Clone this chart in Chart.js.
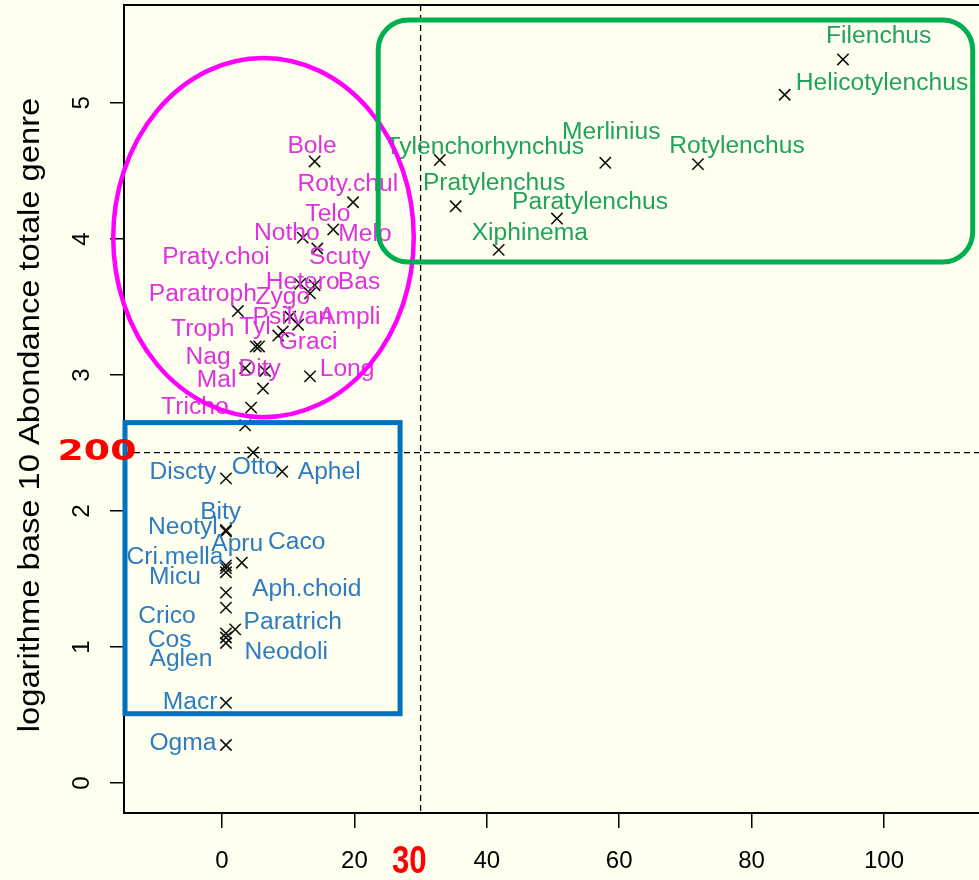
<!DOCTYPE html>
<html>
<head>
<meta charset="utf-8">
<script src="https://cdn.jsdelivr.net/npm/chart.js@4.4.1/dist/chart.umd.min.js"></script>
<style>
  html, body { margin: 0; padding: 0; background: #FFFFF0; overflow: hidden; }
  canvas { display: block; }
</style>
</head>
<body>
<canvas id="scatterC" width="979" height="880"></canvas>
<script>
// x: % , y: log10 abondance totale
const magentaNames = ["Bole","Roty.chul","Telo","Notho","Melo","Praty.choi","Scuty","Hetero","Bas","Paratroph","Zygo","Psilvan","Ampli","Troph","Tyl","Graci","Nag","Dity","Long","Mal","Tricho"];
const magentaX = [14.0,19.8,16.8,12.2,5.1,3.5,14.4,11.8,14.0,2.4,13.3,10.3,11.5,5.6,9.2,8.5,3.5,6.5,13.3,6.2,4.4];
const magentaY = [4.57,4.27,4.07,4.01,3.21,2.63,3.93,3.67,3.66,3.47,3.60,3.43,3.37,3.21,3.32,3.29,3.05,3.03,2.99,2.90,2.76];
const magentaLabelX = [13.6,19.0,16.0,9.8,21.6,-0.9,17.8,12.2,20.7,-2.9,9.2,10.6,19.3,-2.9,5.0,13.0,-2.1,5.7,18.9,-0.8,-4.1];
const magentaLabelY = [4.68,4.40,4.18,4.04,4.03,3.86,3.86,3.68,3.68,3.59,3.57,3.42,3.42,3.33,3.35,3.24,3.13,3.04,3.04,2.96,2.76];

const blueNames = ["Otto","Discty","Aphel","Bity","Neotyl","Apru","Caco","Cri.mella","Micu","Aph.choid","Crico","Paratrich","Cos","Neodoli","Aglen","Macr","Ogma"];
const blueX = [4.7,0.6,9.1,0.6,0.6,0.6,3.0,0.6,0.6,0.6,0.6,2.0,0.6,0.6,0.6,0.6,0.6];
const blueY = [2.43,2.24,2.29,1.86,1.85,1.60,1.62,1.58,1.55,1.40,1.29,1.13,1.10,1.07,1.03,0.59,0.28];
const blueLabelX = [5.0,-5.9,16.2,-0.2,-5.9,2.3,11.3,-7.1,-7.1,12.8,-8.3,10.7,-7.9,9.7,-6.2,-4.8,-5.9];
const blueLabelY = [2.32,2.28,2.28,1.99,1.88,1.75,1.77,1.66,1.51,1.42,1.22,1.18,1.05,0.96,0.91,0.59,0.29];

const greenNames = ["Filenchus","Helicotylenchus","Tylenchorhynchus","Merlinius","Rotylenchus","Pratylenchus","Paratylenchus","Xiphinema"];
const greenX = [93.8,85.0,32.9,57.9,71.9,35.3,50.6,41.8];
const greenY = [5.32,5.06,4.58,4.56,4.55,4.24,4.15,3.92];
const greenLabelX = [99.2,99.7,39.7,58.8,77.8,41.1,55.6,46.5];
const greenLabelY = [5.49,5.14,4.67,4.78,4.68,4.41,4.27,4.04];

const xTicks = [0,20,40,60,80,100];
const yTicks = [0,1,2,3,4,5];
const xSeuil = 30;     // seuil x
const ySeuil = 2.43;   // seuil abondance (200)

function pts(names, xs, ys, lxs, lys){
    return names.map((n,i)=>({x:xs[i], y:ys[i], name:n, lx:lxs[i], ly:lys[i]}));
}

function stretchText(ctx, str, x, y, font, color, sx){
    ctx.save();
    ctx.translate(x, y);
    ctx.scale(sx, 1);
    ctx.font = font;
    ctx.fillStyle = color;
    ctx.textAlign = "center";
    ctx.textBaseline = "middle";
    ctx.fillText(str, 0, 0);
    ctx.restore();
}

const bgPlugin = {
    id: "bg",
    beforeDraw(chart){
        const ctx = chart.ctx;
        ctx.save();
        ctx.fillStyle = "#FFFFF0";
        ctx.fillRect(0, 0, chart.width, chart.height);
        ctx.restore();
    }
};

const annotPlugin = {
    id: "annot",
    beforeDatasetsDraw(chart){
        const ctx = chart.ctx, xs = chart.scales.x, ys = chart.scales.y, a = chart.chartArea;
        ctx.save();
        ctx.strokeStyle = "#000";
        ctx.lineWidth = 1.3;
        ctx.setLineDash([6,4]);
        ctx.beginPath();
        const vx = xs.getPixelForValue(xSeuil);
        ctx.moveTo(vx, a.top); ctx.lineTo(vx, a.bottom);
        const hy = ys.getPixelForValue(ySeuil);
        ctx.moveTo(a.left, hy); ctx.lineTo(a.right, hy);
        ctx.stroke();
        ctx.restore();
    },
    afterDatasetsDraw(chart){
        const ctx = chart.ctx, xs = chart.scales.x, ys = chart.scales.y;
        // point labels
        chart.data.datasets.forEach(ds=>{
            ds.data.forEach(p=>{
                stretchText(ctx, p.name, xs.getPixelForValue(p.lx), ys.getPixelForValue(p.ly),
                    "23px 'Liberation Sans', Arial, sans-serif", ds.textColor, 1.07);
            });
        });
        ctx.save();
        ctx.lineWidth = 4.5;
        // ellipse
        const cx = xs.getPixelForValue(6.27), cy = ys.getPixelForValue(4.01);
        const rx = xs.getPixelForValue(6.27 + 22.7) - cx, ry = cy - ys.getPixelForValue(4.01 + 1.32);
        ctx.strokeStyle = "#FF00FF";
        ctx.beginPath();
        ctx.ellipse(cx, cy, rx, ry, 0, 0, Math.PI*2);
        ctx.stroke();
        // blue box
        ctx.strokeStyle = "#0070C0";
        ctx.lineWidth = 5;
        const bx0 = xs.getPixelForValue(-14.65), bx1 = xs.getPixelForValue(26.9);
        const by0 = ys.getPixelForValue(2.65), by1 = ys.getPixelForValue(0.51);
        ctx.strokeRect(bx0, by0, bx1-bx0, by1-by0);
        // green rounded box
        ctx.strokeStyle = "#00B050";
        const gx0 = xs.getPixelForValue(23.6), gx1 = xs.getPixelForValue(113.4);
        const gy0 = ys.getPixelForValue(5.61), gy1 = ys.getPixelForValue(3.83);
        ctx.beginPath();
        ctx.roundRect(gx0, gy0, gx1-gx0, gy1-gy0, 30);
        ctx.stroke();
        ctx.restore();
    },
    afterDraw(chart){
        const ctx = chart.ctx, xs = chart.scales.x, ys = chart.scales.y, a = chart.chartArea;
        // top frame line
        ctx.save();
        ctx.strokeStyle = "#000";
        ctx.lineWidth = 2;
        ctx.beginPath();
        ctx.moveTo(a.left, a.top); ctx.lineTo(a.right, a.top);
        ctx.stroke();
        ctx.restore();
        // y tick labels, rotated like R
        yTicks.forEach(v=>{
            ctx.save();
            ctx.translate(82, ys.getPixelForValue(v));
            ctx.rotate(-Math.PI/2);
            ctx.font = "24px 'Liberation Sans', Arial, sans-serif";
            ctx.fillStyle = "#000";
            ctx.textAlign = "center";
            ctx.textBaseline = "middle";
            ctx.fillText(String(v), 0, 0);
            ctx.restore();
        });
        // y axis title
        ctx.save();
        ctx.translate(31, 415);
        ctx.rotate(-Math.PI/2);
        ctx.scale(1.09, 1);
        ctx.font = "30px 'Liberation Sans', Arial, sans-serif";
        ctx.fillStyle = "#000";
        ctx.textAlign = "center";
        ctx.textBaseline = "middle";
        ctx.fillText("logarithme base 10 Abondance totale genre", 0, 0);
        ctx.restore();
        // red markers of thresholds
        stretchText(ctx, "200", 97, ys.getPixelForValue(ySeuil), "bold 28px 'DejaVu Sans', sans-serif", "#FF0000", 1.35);
        stretchText(ctx, "30", xs.getPixelForValue(28.3), 863, "bold 38px 'Liberation Sans', Arial, sans-serif", "#FF0000", 0.82);
    }
};

const crossStyle = {
    pointStyle: "crossRot",
    pointRadius: 8,
    pointBorderColor: "#111",
    pointBorderWidth: 1.6,
    pointBackgroundColor: "transparent",
    showLine: false
};

new Chart(document.getElementById("scatterC"), {
    type: "scatter",
    data: {
        datasets: [
            Object.assign({label:"magenta", textColor:"#DD33DD", data: pts(magentaNames, magentaX, magentaY, magentaLabelX, magentaLabelY)}, crossStyle),
            Object.assign({label:"bleu", textColor:"#2E7BC0", data: pts(blueNames, blueX, blueY, blueLabelX, blueLabelY)}, crossStyle),
            Object.assign({label:"vert", textColor:"#20A35C", data: pts(greenNames, greenX, greenY, greenLabelX, greenLabelY)}, crossStyle)
        ]
    },
    options: {
        responsive: false,
        animation: false,
        devicePixelRatio: 1,
        layout: { autoPadding: false, padding: { top: 5, right: 0, left: 0, bottom: 0 } },
        plugins: { legend: { display: false }, tooltip: { enabled: false } },
        scales: {
            x: {
                type: "linear",
                min: -14.8,
                max: 114.35,
                afterBuildTicks: (s)=>{ s.ticks = xTicks.map(v=>({value:v})); },
                afterFit: (s)=>{ s.height = 67; s.paddingLeft = 0; s.paddingRight = 0; },
                ticks: {
                    includeBounds: false,
                    color: "#000",
                    padding: 19,
                    font: { size: 24, family: "'Liberation Sans', Arial, sans-serif" }
                },
                grid: { drawOnChartArea: false, tickLength: 15, color: "#000", lineWidth: 1.5 },
                border: { display: true, color: "#000", width: 2 }
            },
            y: {
                type: "linear",
                min: -0.22,
                max: 5.72,
                afterBuildTicks: (s)=>{ s.ticks = yTicks.map(v=>({value:v})); },
                afterFit: (s)=>{ s.width = 124; s.paddingTop = 0; s.paddingBottom = 0; },
                ticks: { includeBounds: false, color: "transparent" },
                grid: { drawOnChartArea: false, tickLength: 14, color: "#000", lineWidth: 1.5 },
                border: { display: true, color: "#000", width: 2 }
            }
        }
    },
    plugins: [bgPlugin, annotPlugin]
});
</script>
</body>
</html>
